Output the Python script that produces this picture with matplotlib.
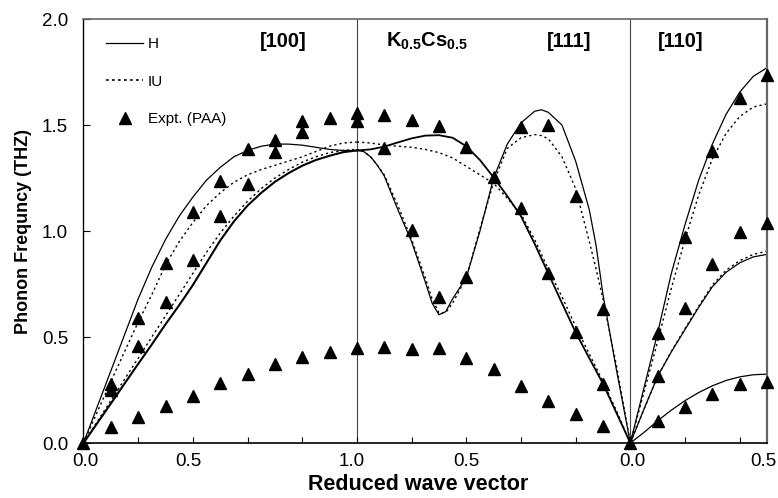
import numpy as np
import matplotlib
matplotlib.use("Agg")
import matplotlib.pyplot as plt

plt.rcParams['font.family'] = ['Liberation Sans', 'DejaVu Sans']
plt.rcParams['mathtext.fontset'] = 'custom'
plt.rcParams['mathtext.rm'] = 'Liberation Sans'
plt.rcParams['mathtext.bf'] = 'Liberation Sans:bold'

# ---------------- data (path coordinate: [100] 0-1, [111] 1-2, [110] 2-2.5) -------------
nan = np.nan
# experimental points
exp_100_x = [0.1, 0.2, 0.3, 0.4, 0.5, 0.6, 0.7, 0.8, 0.9, 1.0]
exp_100_upper = [0.278, 0.59, 0.85, 1.09, 1.235, 1.387, 1.43, 1.519, 1.533, 1.556]
exp_100_mid = [0.25, 0.46, 0.665, 0.863, 1.07, 1.22, 1.372, 1.467, nan, 1.519]
exp_100_low = [0.075, 0.123, 0.175, 0.222, 0.283, 0.325, 0.373, 0.406, 0.43, 0.448]

exp_111_x = [1.1, 1.2, 1.3, 1.4, 1.5, 1.6, 1.7, 1.8, 1.9]
exp_111_a = [1.547, 1.523, 1.495, 1.397, 1.255, 1.49, 1.5, 1.165, 0.632]
exp_111_b = [1.39, 1.005, 0.69, 0.783, nan, 1.108, 0.80, 0.523, 0.28]
exp_111_low = [0.453, 0.443, 0.448, 0.40, 0.35, 0.27, 0.198, 0.137, 0.08]

exp_110_x = [2.1, 2.2, 2.3, 2.4, 2.5]
exp_110_top = [0.52, 0.97, 1.377, 1.627, 1.736]
exp_110_mid = [0.315, 0.635, 0.844, 0.995, 1.038]
exp_110_low = [0.105, 0.17, 0.23, 0.28, 0.29]

exp_gamma_x = [0.0, 2.0]
exp_gamma_y = [0.0, 0.0]

# theory H (solid)
h100_x = [0, .05, .1, .15, .2, .25, .3, .35, .4, .45, .5, .55, .6, .65, .7, .75, .8, .85, .9, .95, 1.0]
h100_up_y = [0, .17, .34, .51, .68, .83, .96, 1.07, 1.16, 1.24, 1.30, 1.35, 1.38, 1.40, 1.41, 1.41,
             1.405, 1.395, 1.385, 1.38, 1.38]
h100_lo_y = [0, .093, .186, .28, .373, .465, .56, .65, .745, .85, .955, 1.045, 1.12, 1.18, 1.232, 1.273,
             1.308, 1.335, 1.355, 1.372, 1.38]

h111_up_x = [1.0, 1.05, 1.1, 1.15, 1.2, 1.25, 1.3, 1.35, 1.4, 1.45, 1.5, 1.55, 1.6, 1.65, 1.7, 1.75,
             1.8, 1.85, 1.9, 1.95, 2.0]
h111_up_y = [1.38, 1.385, 1.398, 1.418, 1.437, 1.45, 1.452, 1.44, 1.40, 1.335, 1.253, 1.165, 1.07,
             0.94, 0.80, 0.66, 0.522, 0.40, 0.28, 0.14, 0.0]
h111_lo_x = [1.0, 1.025, 1.05, 1.075, 1.1, 1.15, 1.2, 1.25, 1.275, 1.3, 1.325, 1.35, 1.4, 1.45, 1.5,
             1.55, 1.6, 1.65, 1.675, 1.7, 1.75, 1.8, 1.85, 1.875, 1.9, 1.95, 2.0]
h111_lo_y = [1.38, 1.375, 1.35, 1.31, 1.26, 1.10, 0.95, 0.76, 0.66, 0.605, 0.62, 0.68, 0.78, 1.00,
             1.25, 1.41, 1.51, 1.565, 1.572, 1.56, 1.50, 1.33, 1.10, 0.93, 0.70, 0.34, 0.0]

h110_x = [2.0, 2.05, 2.1, 2.15, 2.2, 2.25, 2.3, 2.35, 2.4, 2.45, 2.5]
h110_top_y = [0, 0.26, 0.52, 0.80, 1.03, 1.24, 1.41, 1.55, 1.655, 1.73, 1.77]
h110_mid_y = [0, 0.16, 0.315, 0.43, 0.535, 0.64, 0.737, 0.805, 0.85, 0.878, 0.89]
h110_low_y = [0, 0.05, 0.105, 0.155, 0.2, 0.238, 0.27, 0.295, 0.312, 0.322, 0.325]

# theory IU (dotted)
iu100_up_y = [0, .145, .29, .43, .57, .70, .84, .95, 1.04, 1.12, 1.18, 1.23, 1.265, 1.29, 1.31, 1.33,
              1.35, 1.375, 1.40, 1.415, 1.42]
iu100_lo_y = [0, .1, .2, .3, .4, .5, .6, .7, .8, .90, .99, 1.07, 1.14, 1.2, 1.25, 1.29, 1.325, 1.35,
              1.37, 1.38, 1.385]
iu111_up_y = [1.42, 1.415, 1.406, 1.40, 1.395, 1.385, 1.37, 1.345, 1.305, 1.265, 1.225, 1.155, 1.08,
              0.96, 0.82, 0.69, 0.55, 0.42, 0.29, 0.15, 0.0]
iu111_lo_y = [1.385, 1.375, 1.35, 1.31, 1.265, 1.12, 0.96, 0.78, 0.68, 0.615, 0.615, 0.66, 0.78, 1.01,
              1.23, 1.39, 1.44, 1.455, 1.45, 1.435, 1.35, 1.20, 0.95, 0.82, 0.68, 0.36, 0.0]
iu110_top_y = [0, 0.24, 0.48, 0.73, 0.96, 1.17, 1.34, 1.46, 1.54, 1.585, 1.60]
iu110_mid_y = [0, 0.16, 0.315, 0.432, 0.54, 0.645, 0.745, 0.815, 0.86, 0.89, 0.905]

x_tick_labels = ['0.0', '0.5', '1.0', '0.5', '0.0', '0.5']
y_tick_labels = ['0.0', '0.5', '1.0', '1.5', '2.0']

# ---------------- plot ----------------
fig = plt.figure(figsize=(7.78, 4.98), dpi=100)
ax = fig.add_axes([0.1073, 0.1104, 0.8786, 0.8514])

solid = dict(color='black', lw=0.9, ls='-')
dotted = dict(color='black', lw=1.0, ls=(0, (1.6, 2.2)))

ax.plot(h100_x, h100_up_y, **solid)
ax.plot(h100_x, h100_lo_y, color='black', lw=1.5)
ax.plot(h111_up_x, h111_up_y, color='black', lw=1.3)
ax.plot(h111_lo_x, h111_lo_y, **solid)
ax.plot(h110_x, h110_top_y, **solid)
ax.plot(h110_x, h110_mid_y, **solid)
ax.plot(h110_x, h110_low_y, **solid)

ax.plot(h100_x, iu100_up_y, **dotted)
ax.plot(h100_x, iu100_lo_y, **dotted)
ax.plot(h111_up_x, iu111_up_y, **dotted)
ax.plot(h111_lo_x, iu111_lo_y, **dotted)
ax.plot(h110_x, iu110_top_y, **dotted)
ax.plot(h110_x, iu110_mid_y, **dotted)

# legend proxies
ax.plot([], [], label='H', **solid)
ax.plot([], [], label='IU', color='black', lw=1.2, ls=(0, (1.6, 2.0)))
mk = dict(marker='^', ms=8.5, color='black', ls='none', clip_on=False)
ax.plot([], [], label='Expt. (PAA)', **mk)

for xs, ys in [(exp_100_x, exp_100_upper), (exp_100_x, exp_100_mid), (exp_100_x, exp_100_low),
               (exp_111_x, exp_111_a), (exp_111_x, exp_111_b), (exp_111_x, exp_111_low),
               (exp_110_x, exp_110_top), (exp_110_x, exp_110_mid), (exp_110_x, exp_110_low),
               (exp_gamma_x, exp_gamma_y)]:
    ax.plot(xs, ys, zorder=5, **mk)

ax.axvline(1.0, color='#444444', lw=0.8, zorder=1)
ax.axvline(2.0, color='#444444', lw=0.8, zorder=1)

ax.set_xlim(0, 2.5)
ax.set_ylim(0, 2.0)
ax.xaxis.remove_overlapping_locs = False
ax.set_xticks(np.arange(0, 2.41, 0.2))
ax.set_xticklabels([])
ax.set_xticks([0.007, 0.385, 0.982, 1.402, 2.006, 2.488], minor=True)
ax.set_xticklabels(x_tick_labels, minor=True)
ax.tick_params(axis='x', which='minor', length=0, pad=7, labelsize=13.5)
ax.tick_params(axis='x', which='major', direction='in', length=4, width=0.8)
ax.set_yticks([0, 0.5, 1.0, 1.5, 2.0])
ax.set_yticklabels(y_tick_labels)
ax.tick_params(axis='y', direction='in', length=5, width=0.8, pad=11, labelsize=13.5)

for s in ['top', 'right']:
    ax.spines[s].set_color('#666666')
ax.spines['right'].set_linewidth(1.6)
ax.spines['top'].set_linewidth(1.2)
ax.spines['left'].set_linewidth(1.0)
ax.spines['bottom'].set_linewidth(1.2)

tfont = dict(fontsize=14.5, fontweight='bold', ha='center', va='baseline')
ax.text(0.73, 1.866, '[100]', **tfont)
ax.text(1.256, 1.869, r'$\mathbf{K_{0.5}Cs_{0.5}}$', fontsize=14.5, ha='center', va='baseline')
ax.text(1.775, 1.866, '[111]', **tfont)
ax.text(2.185, 1.866, '[110]', **tfont)

ax.set_xlabel('Reduced wave vector', fontsize=15.5, fontweight='bold')
ax.xaxis.set_label_coords(0.489, -0.072)
ax.set_ylabel('Phonon Frequncy (THZ)', fontsize=13, fontweight='bold', labelpad=7)

leg = ax.legend(loc='upper left', frameon=False, fontsize=11, handlelength=2.4,
                labelspacing=1.55, handletextpad=0.3, borderaxespad=0.3,
                bbox_to_anchor=(0.018, 0.983))

fig.savefig('out.png', dpi=100)
